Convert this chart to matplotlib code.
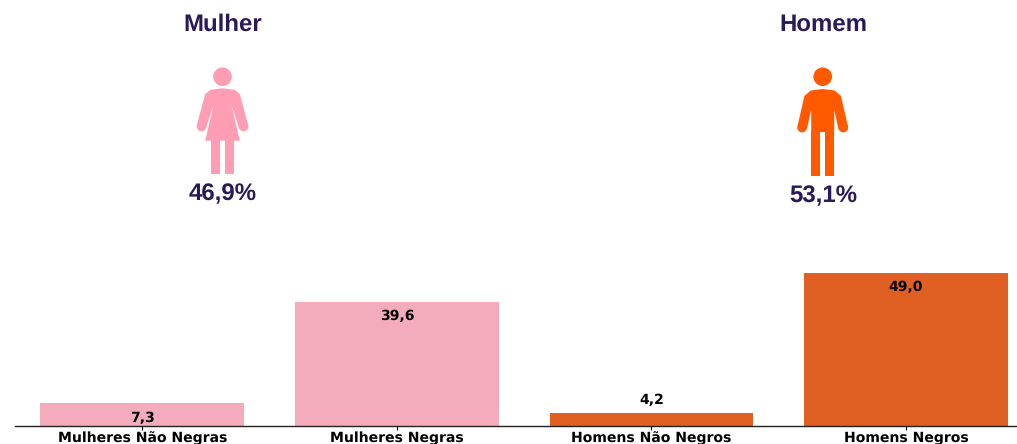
import matplotlib
matplotlib.use('Agg')
import matplotlib.pyplot as plt
from matplotlib.patches import Circle, Polygon, Rectangle

plt.rcParams['text.hinting'] = 'no_hinting'
plt.rcParams['text.hinting_factor'] = 1

# values
categories = ['Mulheres Não Negras', 'Mulheres Negras', 'Homens Não Negros', 'Homens Negros']
values = [7.3, 39.6, 4.2, 49.0]
value_labels = ['7,3', '39,6', '4,2', '49,0']
label_offsets = [-14.5, -14.5, 13, -14.5]  # pixels from bar top
genders = ['Mulher', 'Homem']
gender_shares = ['46,9%', '53,1%']

PINK = '#f4acbd'
ORANGE = '#e06024'
bar_colors = [PINK, PINK, ORANGE, ORANGE]
TEXT_PURPLE = '#2b1a5a'
ICON_PINK = '#ff9db5'
ICON_ORANGE = '#ff5a00'

W, H = 1017, 444
fig = plt.figure(figsize=(W / 100, H / 100), dpi=100)
fig.patch.set_facecolor('white')

# bar axes, px positions
ax = fig.add_axes([15 / W, 18 / H, (W - 15) / W, 166 / H])
ax.bar(range(4), values, width=0.8, color=bar_colors)
ax.set_xlim(-0.5, 3.436)
ax.set_ylim(0, 166 / 3.13)
ax.set_yticks([])
ax.set_xticks(range(4))
ax.set_xticklabels(categories, fontsize=10.3, fontweight='bold', color='black', va='baseline')
ax.tick_params(axis='x', length=3, width=0.8, pad=8.5)
for s in ['top', 'left', 'right']:
    ax.spines[s].set_visible(False)
ax.spines['bottom'].set_linewidth(1)
ax.spines['bottom'].set_color('#222222')

for i in range(4):
    ax.annotate(value_labels[i], (i, values[i]),
                xytext=(0, label_offsets[i] * 0.72), textcoords='offset points',
                ha='center', va='center', fontsize=10.3, fontweight='bold', color='black')

# overlay in picture pixels for the two person icons and their texts
ov = fig.add_axes([0, 0, 1, 1])
ov.set_xlim(0, W)
ov.set_ylim(H, 0)
ov.axis('off')
ov.patch.set_alpha(0)


def body(cx, points, color):
    # points are given for the left half, the right half is its mirror image
    outline = [(cx + x, y) for x, y in points] + [(cx - x, y) for x, y in reversed(points)]
    ov.add_patch(Polygon(outline, closed=True, color=color, lw=0))


def woman(cx, color):
    ov.add_patch(Circle((cx, 76.7), 9.3, color=color, lw=0))
    body(cx, [(0, 88.3), (-12, 89.8), (-17.3, 94), (-25.7, 125), (-16.5, 128), (-9, 105),
              (-17.3, 140.7), (0, 140.7)], color)
    ov.add_patch(Circle((cx - 21, 126.5), 4.8, color=color, lw=0))
    ov.add_patch(Circle((cx + 21, 126.5), 4.8, color=color, lw=0))
    ov.add_patch(Rectangle((cx - 11.7, 140), 9.4, 34, color=color, lw=0))
    ov.add_patch(Rectangle((cx + 2.3, 140), 9.4, 34, color=color, lw=0))


def man(cx, color):
    ov.add_patch(Circle((cx, 76.7), 9.3, color=color, lw=0))
    body(cx, [(0, 89), (-12, 90.5), (-18.3, 96), (-25.3, 126.5), (-15.8, 129), (-11.5, 110),
              (-11.5, 132), (0, 132)], color)
    ov.add_patch(Circle((cx - 20.6, 127.6), 4.8, color=color, lw=0))
    ov.add_patch(Circle((cx + 20.6, 127.6), 4.8, color=color, lw=0))
    ov.add_patch(Rectangle((cx - 11.5, 131), 9.2, 44.5, color=color, lw=0))
    ov.add_patch(Rectangle((cx + 2.3, 131), 9.2, 44.5, color=color, lw=0))


woman(222.5, ICON_PINK)
man(822.7, ICON_ORANGE)

big = dict(family='Liberation Sans', fontweight='bold', color=TEXT_PURPLE,
           fontsize=17.5, ha='center', va='center')
ov.text(222.8, 24.5, genders[0], **big)
ov.text(823.3, 24.5, genders[1], **big)
ov.text(222.7, 194, gender_shares[0], **big)
ov.text(823.7, 196, gender_shares[1], **big)

fig.savefig('out.png', dpi=100)
